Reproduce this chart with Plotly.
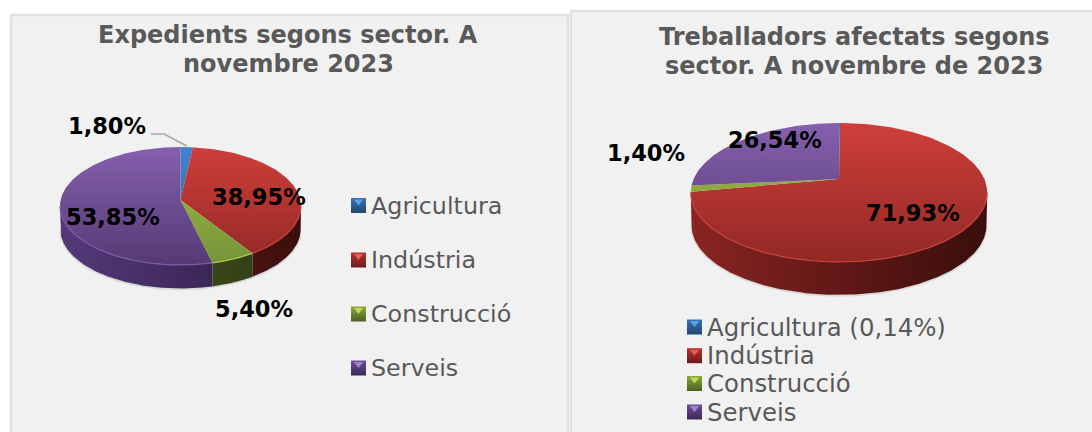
import numpy as np
import plotly.graph_objects as go

# ---- data ----
sectors = ["Agricultura", "Indústria", "Construcció", "Serveis"]
expedients_shares = [1.80, 38.95, 5.40, 53.85]
treballadors_shares = [0.14, 71.93, 1.40, 26.54]
expedients_labels = ["1,80%", "38,95%", "5,40%", "53,85%"]
treballadors_labels = [None, "71,93%", "1,40%", "26,54%"]
title_left = ["Expedients segons sector. A", "novembre 2023"]
title_right = ["Treballadors afectats segons", "sector. A novembre de 2023"]
legend_left = sectors
legend_right = ["Agricultura (0,14%)", "Indústria", "Construcció", "Serveis"]

# ---- styles ----
TOP = {  # light, dark : vertical gradient over the whole top face
    0: ("#3f86cf", "#2a5f99"),
    1: ("#cf3f3a", "#922825"),
    2: ("#a0c040", "#76923a"),
    3: ("#8560ae", "#553a74"),
}
SIDE = {  # left, right : horizontal gradient along the wall
    0: ("#24507f", "#1a3a5c"),
    1: ("#8a2421", "#380e0c"),
    2: ("#4c5f24", "#2c3812"),
    3: ("#55397a", "#2b1c42"),
}
RIM = {0: "#4f94da", 1: "#c9423d", 2: "#aecb52", 3: "#7d5aa6"}
SWATCH_LIGHT = {0: "#5aa2e6", 1: "#e2605a", 2: "#bcd95e", 3: "#a283cf"}
SWATCH = {0: ("#3673b5", "#22466f"), 1: ("#b9322e", "#6b1c1a"),
          2: ("#8cab38", "#4c5f24"), 3: ("#6f4d98", "#3a2858")}
GREY = "#595959"
FONT = "DejaVu Sans"

fig = go.Figure()


def rim(theta, g, dy=0.0, shrink=1.0):
    """Perspective projection of disc angles (clockwise from 12 o'clock)."""
    u, v = np.sin(theta), -np.cos(theta)
    d = 1 + g["c"] * v
    return g["x0"] + shrink * g["k"] * u / d, (g["a"] * v + g["y0"]) / d + dy


def add_pie(shares, g):
    edges = np.radians(np.concatenate([[0], np.cumsum(shares)]) * 360 / sum(shares))
    xmin, xmax = g["x0"] - g["k"] * 1.02, g["x0"] + g["k"] * 1.02
    ytop, ybot = g["ytop"], g["ybot"]
    # angles where the rim is tangent to the vertical silhouette
    t0 = np.arccos(g["c"])
    t1 = 2 * np.pi - t0
    # soft shadow under the wall
    th = np.linspace(t0, t1, 160)
    sx, sy = rim(th, g, g["depth"] + 0.8, g["shrink"])
    fig.add_trace(go.Scatter(x=sx, y=sy, mode="lines", hoverinfo="skip", showlegend=False,
                             line=dict(color="rgba(60,60,60,0.13)", width=2)))
    # walls: only the part of each slice that faces the viewer
    for i in range(len(shares)):
        lo, hi = max(edges[i], t0), min(edges[i + 1], t1)
        if hi <= lo:
            continue
        th = np.linspace(lo, hi, 200)
        xt, yt = rim(th, g)
        xb, yb = rim(th, g, g["depth"], g["shrink"])
        fig.add_trace(go.Scatter(
            x=np.r_[xt, xb[::-1]], y=np.r_[yt, yb[::-1]], mode="lines", fill="toself",
            line=dict(width=0), hoverinfo="skip", showlegend=False,
            fillgradient=dict(type="horizontal", start=xmin, stop=xmax,
                              colorscale=[[0, SIDE[i][0]], [1, SIDE[i][1]]])))
    # top faces
    for i in range(len(shares)):
        th = np.linspace(edges[i], edges[i + 1], 200)
        xt, yt = rim(th, g)
        fig.add_trace(go.Scatter(
            x=np.r_[g["x0"], xt, g["x0"]], y=np.r_[g["y0"], yt, g["y0"]],
            mode="lines", fill="toself", line=dict(width=0), hoverinfo="skip", showlegend=False,
            fillgradient=dict(type="vertical", start=ytop, stop=ybot,
                              colorscale=[[0, TOP[i][0]], [1, TOP[i][1]]])))
    # light bevel on the front rim
    for i in range(len(shares)):
        lo, hi = max(edges[i], t0), min(edges[i + 1], t1)
        if hi > lo:
            xr, yr = rim(np.linspace(lo, hi, 120), g)
            fig.add_trace(go.Scatter(x=xr, y=yr, mode="lines", hoverinfo="skip", showlegend=False,
                                     line=dict(color=RIM[i], width=1.2)))


def add_legend(names, xs, xt, ys, size):
    for i, (name, y) in enumerate(zip(names, ys)):
        fig.add_trace(go.Scatter(
            x=[xs], y=[y], mode="markers", hoverinfo="skip", showlegend=False,
            marker=dict(symbol="square", size=15, color=SWATCH[i][0],
                        gradient=dict(type="vertical", color=SWATCH[i][1]),
                        line=dict(width=0))))
        fig.add_trace(go.Scatter(
            x=[xs], y=[y - 4], mode="markers", hoverinfo="skip", showlegend=False,
            marker=dict(symbol="triangle-down", size=8, color=SWATCH_LIGHT[i], line=dict(width=0))))
        fig.add_annotation(x=xt, y=y, text=name, showarrow=False, xanchor="left", yanchor="middle",
                           font=dict(family=FONT, size=size, color=GREY), xref="x", yref="y")


# panels
panel = dict(type="rect", xref="x", yref="y", fillcolor="#f1f1f1",
             line=dict(color="#e0e0e0", width=2.5), layer="below")
fig.add_shape(x0=11, y0=15, x1=568, y1=470, **panel)
fig.add_shape(x0=571, y0=11, x1=1130, y1=470, **panel)

# pies
left_geom = dict(x0=180.5, y0=200, k=119.9, c=-0.1017, a=38.05, depth=23.5, shrink=0.997, ytop=147, ybot=265)
right_geom = dict(x0=839, y0=179, k=145.4, c=-0.194, a=32.1, depth=33, shrink=0.995, ytop=123, ybot=262)
add_pie(expedients_shares, left_geom)
add_pie(treballadors_shares, right_geom)

# leader line for the first label
fig.add_trace(go.Scatter(x=[151, 164, 187], y=[134, 134, 146], mode="lines", hoverinfo="skip",
                         showlegend=False, line=dict(color="#a6a6a6", width=1.5)))

# titles
for lines, x, ys in [(title_left, 288, (35, 64)), (title_right, 854, (37, 66))]:
    for text, y in zip(lines, ys):
        fig.add_annotation(x=x, y=y, text=text, showarrow=False, xref="x", yref="y",
                           xanchor="center", yanchor="middle", align="center",
                           font=dict(family=FONT, size=24, color=GREY, weight="bold"))

# data labels
positions_left = [(107, 126), (259, 197), (254, 309), (113, 217)]
positions_right = [None, (913, 213), (646, 153), (775, 140)]
for labels, positions in [(expedients_labels, positions_left), (treballadors_labels, positions_right)]:
    for lab, pos in zip(labels, positions):
        if lab is None:
            continue
        fig.add_annotation(x=pos[0], y=pos[1], text=lab, showarrow=False, xref="x", yref="y",
                           xanchor="center", yanchor="middle",
                           font=dict(family=FONT, size=22.5, color="black", weight="bold"))

# legends
add_legend(legend_left, 358.5, 369, [205.5, 260, 314, 368], 23.8)
add_legend(legend_right, 694.5, 704.5, [327, 355.7, 383.5, 412], 24.4)

fig.update_layout(
    width=1092, height=432, margin=dict(l=0, r=0, t=0, b=0), autosize=False,
    paper_bgcolor="white", plot_bgcolor="white", showlegend=False,
    xaxis=dict(range=[0, 1092], visible=False, fixedrange=True),
    yaxis=dict(range=[432, 0], visible=False, fixedrange=True),
)
fig.write_html("out.html", config={"displayModeBar": False},
               post_script="document.body.style.margin='0';document.documentElement.style.overflow='hidden';")
